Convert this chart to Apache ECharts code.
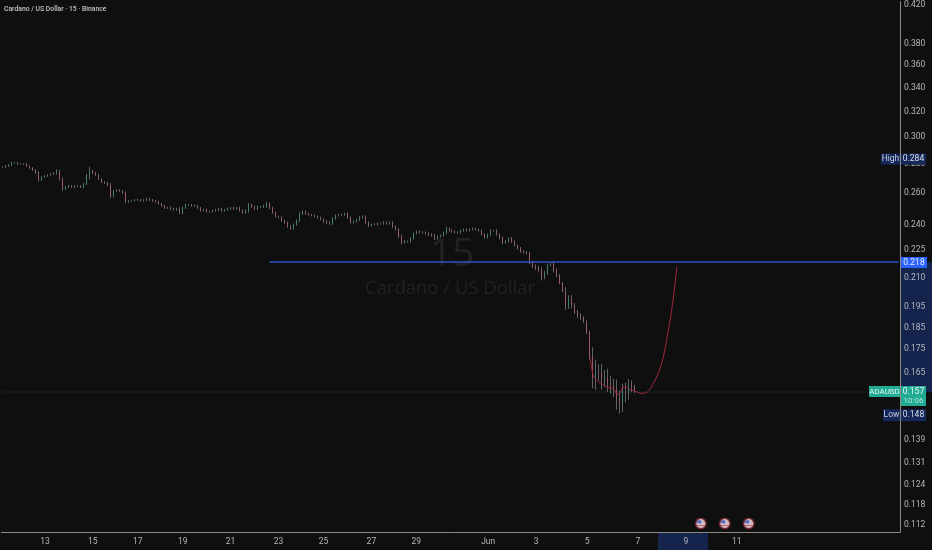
<!DOCTYPE html>
<html><head><meta charset="utf-8">
<style>html,body{margin:0;padding:0;background:#0f0f0f}#c{width:932px;height:550px}</style>
<script src="https://cdn.jsdelivr.net/npm/echarts@6/dist/echarts.min.js"></script>
</head><body><div id="c"></div>
<script>
const title = 'Cardano / US Dollar · 15 · Binance';
const yTicks = [0.42,0.38,0.36,0.34,0.32,0.30,0.28,0.26,0.24,0.225,0.21,0.195,0.185,0.175,0.165,0.139,0.131,0.124,0.118,0.112];
const xTickSlots = [14,30,45,60,76,92,107,123,138,162,178,195,212,228,245];
const xTickLabels = ['13','15','17','19','21','23','25','27','29','Jun','3','5','7','9','11'];
const closes = [
.2780,.2787,.2794,.2809,.2809,.2802,.2802,.2802,.2787,.2773,.2759,.2738,.2690,.2710,.2717,.2724,.2731,.2738,.2752,.2696,
.2629,.2642,.2649,.2642,.2649,.2649,.2642,.2663,.2724,.2752,.2738,.2724,.2696,.2676,.2669,.2656,.2583,.2616,.2622,.2616,
.2603,.2545,.2551,.2551,.2557,.2557,.2551,.2557,.2564,.2557,.2551,.2545,.2532,.2519,.2506,.2506,.2500,.2494,.2500,.2476,
.2506,.2525,.2525,.2519,.2519,.2506,.2488,.2494,.2482,.2482,.2488,.2494,.2500,.2488,.2494,.2500,.2506,.2500,.2506,.2488,
.2476,.2488,.2525,.2513,.2500,.2513,.2513,.2519,.2532,.2506,.2476,.2451,.2445,.2426,.2414,.2390,.2378,.2402,.2426,.2469,
.2482,.2469,.2463,.2457,.2451,.2445,.2433,.2420,.2414,.2408,.2439,.2457,.2463,.2463,.2469,.2445,.2414,.2420,.2433,.2445,
.2451,.2414,.2396,.2402,.2402,.2408,.2408,.2414,.2408,.2414,.2390,.2372,.2330,.2296,.2301,.2301,.2319,.2348,.2360,.2354,
.2354,.2348,.2342,.2336,.2319,.2330,.2336,.2354,.2378,.2366,.2360,.2354,.2354,.2366,.2372,.2366,.2372,.2378,.2372,.2366,
.2342,.2324,.2342,.2366,.2366,.2342,.2319,.2296,.2301,.2319,.2301,.2278,.2261,.2244,.2238,.2232,.2182,.2160,.2150,.2139,
.2102,.2123,.2166,.2176,.2139,.2112,.2070,.2029,.1953,.1993,.1958,.1924,.1905,.1896,.1877,.1825,.1714,.1630,.1654,.1646,
.1621,.1630,.1605,.1593,.1581,.1541,.1522,.1573,.1565,.1597,.1589,.1577];
const wicks = [
.0006,.0006,.0006,.0007,.0006,.0006,.0005,.0006,.0006,.0006,.0006,.0006,.0012,.0006,.0006,.0006,.0005,.0006,.0012,.0008,
.0012,.0007,.0006,.0006,.0007,.0006,.0006,.0008,.0008,.0030,.0008,.0007,.0007,.0007,.0006,.0008,.0014,.0008,.0006,.0006,
.0007,.0010,.0006,.0006,.0006,.0007,.0006,.0006,.0008,.0006,.0006,.0006,.0006,.0006,.0006,.0007,.0008,.0006,.0007,.0010,
.0010,.0007,.0006,.0006,.0007,.0006,.0006,.0006,.0007,.0006,.0006,.0006,.0007,.0006,.0006,.0007,.0006,.0007,.0006,.0007,
.0008,.0008,.0012,.0007,.0006,.0008,.0006,.0007,.0012,.0008,.0007,.0006,.0006,.0007,.0007,.0007,.0008,.0007,.0008,.0009,
.0007,.0006,.0006,.0005,.0006,.0007,.0006,.0007,.0010,.0007,.0008,.0007,.0006,.0006,.0007,.0008,.0007,.0006,.0006,.0009,
.0007,.0008,.0008,.0006,.0006,.0007,.0006,.0008,.0006,.0007,.0008,.0006,.0008,.0012,.0008,.0006,.0007,.0007,.0006,.0006,
.0008,.0006,.0008,.0007,.0010,.0007,.0006,.0006,.0010,.0006,.0007,.0006,.0007,.0006,.0006,.0007,.0006,.0006,.0006,.0006,
.0006,.0007,.0006,.0007,.0006,.0007,.0006,.0012,.0008,.0006,.0008,.0006,.0006,.0008,.0006,.0006,.0010,.0008,.0010,.0012,
.0018,.0012,.0008,.0006,.0012,.0010,.0006,.0006,.0020,.0014,.0016,.0010,.0010,.0012,.0006,.0006,.0010,.0045,.0050,.0030,
.0040,.0030,.0035,.0030,.0030,.0040,.0035,.0030,.0035,.0025,.0020,.0010];
const curve = [.1714,.1642,.1621,.1609,.1601,.1593,.1589,.1585,.1581,.1561,.1565,.1589,.1589,.1581,.1577,.1573,.1569,.1565,.1565,.1569,.1581,.1601,.1625,.1654,.1693,.1748,.1825,.1906,.2016,.2160];
const curveStartSlot = 196;
const levelStartSlot = 89;
const levelPrice = 0.2184, lastPrice = 0.157, highPrice = 0.284, lowPrice = 0.148;
const eventSlots = [233,241,249];
const eventPrice = 0.1124;
const slotCount = 300;

const categories = Array.from({length: slotCount}, (_, i) => {
  const k = xTickSlots.indexOf(i);
  return k >= 0 ? xTickLabels[k] : '';
});
const opens = closes.map((c, i) => i ? closes[i - 1] : c);
const bodies = closes.map((c, i) => [opens[i], c, Math.min(opens[i], c), Math.max(opens[i], c)]);
const ranges = closes.map((c, i) => {
  const hi = Math.max(opens[i], c) + wicks[i], lo = Math.min(opens[i], c) - wicks[i];
  return [hi, hi, lo, hi];
});
const curveData = categories.map((_, i) => {
  const k = i - curveStartSlot;
  return k >= 0 && k < curve.length ? curve[k] : null;
});
const ev = (v) => eventSlots.map(s => [s, v]);
const FONT = 'Roboto, "Open Sans", sans-serif';
const LABEL = '#b4b6bc';

const chart = echarts.init(document.getElementById('c'), null, {renderer: 'canvas'});
chart.setOption({
  animation: false,
  backgroundColor: '#0f0f0f',
  grid: {left: 0, right: 32, top: 0, bottom: 18},
  xAxis: {
    type: 'category', data: categories, boundaryGap: true,
    axisLine: {lineStyle: {color: '#8b8b84', width: 1}},
    axisTick: {show: false}, splitLine: {show: false},
    axisLabel: {interval: 0, color: LABEL, fontSize: 8.5, fontFamily: FONT, margin: 5, hideOverlap: false}
  },
  yAxis: {
    type: 'log', logBase: 10, position: 'right', min: 0.11003, max: 0.4232,
    axisLine: {show: true, lineStyle: {color: '#8b8b84', width: 1}},
    axisTick: {show: false}, splitLine: {show: false}, minorSplitLine: {show: false}, minorTick: {show: false},
    axisLabel: {customValues: yTicks, color: LABEL, fontSize: 8.5, fontFamily: FONT, margin: 4,
      formatter: v => Number(v).toFixed(3)}
  },
  series: [
    {type: 'candlestick', name: 'range', data: ranges, barWidth: 0.6, silent: true, z: 2,
      itemStyle: {color: '#85888c', color0: '#85888c', borderColor: '#85888c', borderColor0: '#85888c', borderWidth: 0.7}},
    {type: 'candlestick', name: 'ADAUSD', data: bodies, barWidth: 1, z: 3,
      itemStyle: {color: '#2a8f7b', color0: '#b05a68', borderColor: '#2a8f7b', borderColor0: '#b05a68', borderWidth: 0.7}},
    {type: 'line', name: 'drawn', data: curveData, showSymbol: false, smooth: 0.3, connectNulls: false, z: 4,
      lineStyle: {color: '#a3263c', width: 1}},
    {type: 'line', name: 'level', data: categories.map((_, i) => i >= levelStartSlot ? levelPrice : null),
      showSymbol: false, z: 5, lineStyle: {color: '#2c55c4', width: 1.6}},
    {type: 'line', name: 'last', data: categories.map(() => lastPrice),
      showSymbol: false, z: 1, lineStyle: {color: '#1c463d', width: 1, type: 'dotted'}},
    {type: 'scatter', data: ev(eventPrice), symbol: 'circle', symbolSize: 12, z: 6, itemStyle: {color: '#8a2a38'}},
    {type: 'scatter', data: ev(eventPrice), symbol: 'circle', symbolSize: 9, z: 7, itemStyle: {color: '#e6e6ee'}},
    {type: 'scatter', data: ev(eventPrice), symbol: 'rect', symbolSize: [4, 3], symbolOffset: [-1.6, -1.8], z: 8, itemStyle: {color: '#3358b8'}},
    {type: 'scatter', data: ev(eventPrice), symbol: 'rect', symbolSize: [7, 1], symbolOffset: [0, 2], z: 8, itemStyle: {color: '#c9404f'}}
  ]
});

const py = v => chart.convertToPixel({yAxisIndex: 0}, v);
const boxText = (x, y, w, h, bg, txt, color, cx, fs, z) => ([
  {type: 'rect', z: z, shape: {x, y, width: w, height: h}, style: {fill: bg}},
  {type: 'text', z: z + 1, style: {text: txt, x: cx, y: y + h / 2, fill: color, fontSize: fs || 8.5, fontFamily: FONT, align: 'center', verticalAlign: 'middle'}}
]);
const yLevel = py(levelPrice), yLast = py(lastPrice), yHigh = py(highPrice), yLow = py(lowPrice);
const tags = [
  {type: 'rect', z: 0, silent: true, shape: {x: 901, y: yLevel, width: 31, height: yLast - yLevel}, style: {fill: '#14244d'}},
  {type: 'rect', z: 0, silent: true, shape: {x: 658, y: 533, width: 50, height: 17}, style: {fill: '#14244d'}},
  ...boxText(881, yHigh - 5, 19, 11, '#16285a', 'High', '#c6cce0', 890.5, 8.5, 20),
  ...boxText(901, yHigh - 5, 25, 11, '#16285a', highPrice.toFixed(3), '#d7dcec', 913.5, 8.5, 20),
  ...boxText(901, yLevel - 5, 26, 11, '#2962ff', levelPrice.toFixed(3), '#e8edff', 914, 8.5, 20),
  ...boxText(869, yLast - 6, 31, 11, '#22ab94', 'ADAUSD', '#e6f6f3', 884.5, 8, 20),
  ...boxText(901, yLast - 6, 25, 20, '#22ab94', '', '#fff', 913, 8.5, 20),
  {type: 'text', z: 22, style: {text: lastPrice.toFixed(3), x: 913.5, y: yLast, fill: '#eef8f6', fontSize: 8.5, fontFamily: FONT, align: 'center', verticalAlign: 'middle'}},
  {type: 'text', z: 22, style: {text: '10:06', x: 913.5, y: yLast + 9, fill: '#a9e3d8', fontSize: 8, fontFamily: FONT, align: 'center', verticalAlign: 'middle'}},
  ...boxText(883, yLow - 6, 17, 12, '#16285a', 'Low', '#c6cce0', 891.5, 8.5, 20),
  ...boxText(901, yLow - 6, 25, 12, '#16285a', lowPrice.toFixed(3), '#d7dcec', 913.5, 8.5, 20),
  {type: 'text', z: 1, silent: true, style: {text: title, x: 4, y: 9, fill: '#c4c5c8', fontSize: 6.8, fontWeight: 500, fontFamily: FONT, verticalAlign: 'middle'}},
  {type: 'text', z: 1, silent: true, style: {text: '15', x: 452, y: 255, fill: '#212224', fontSize: 39, fontFamily: '"Open Sans", sans-serif', align: 'center', verticalAlign: 'middle'}},
  {type: 'text', z: 1, silent: true, style: {text: 'Cardano / US Dollar', x: 450, y: 289, fill: '#212224', fontSize: 18.5, fontFamily: '"Open Sans", sans-serif', align: 'center', verticalAlign: 'middle'}}
];
chart.setOption({graphic: {elements: tags}});
</script></body></html>
